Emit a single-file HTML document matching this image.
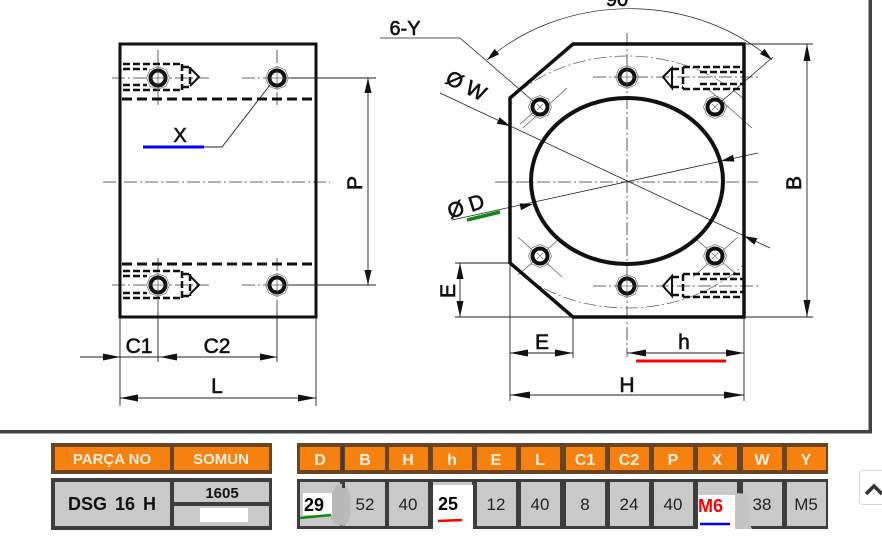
<!DOCTYPE html>
<html><head><meta charset="utf-8"><style>
html,body{margin:0;padding:0;background:#fff;}
svg{display:block;}
text{font-family:"Liberation Sans",Arial,sans-serif;}
</style></head><body>
<svg width="882" height="547" viewBox="0 0 882 547" xmlns="http://www.w3.org/2000/svg">
<defs>
<clipPath id="shp"><path d="M573,44 L744,44 L744,317 L573,317 L510,263 L510,98 Z"/></clipPath>
<g id="hole">
<polygon points="11.5,0 8.1,8.1 0,11.5 -8.1,8.1 -11.5,0 -8.1,-8.1 0,-11.5 8.1,-8.1" fill="none" stroke="#777" stroke-width="0.8"/>
<circle r="7.5" fill="#fff" stroke="#111" stroke-width="4"/>
</g>
</defs>
<rect width="882" height="547" fill="#fff"/>

<!-- frame -->
<rect x="0" y="430" width="872" height="3.5" fill="#444"/>
<rect x="868.5" y="0" width="3.5" height="433" fill="#444"/>

<!-- ================= LEFT DRAWING ================= -->
<g stroke="#333" stroke-width="0.8" fill="none" stroke-dasharray="13 3 2 3">
<line x1="103" y1="182" x2="330" y2="182"/>
<line x1="112" y1="78" x2="210" y2="78"/>
<line x1="242" y1="78" x2="313" y2="78"/>
<line x1="112" y1="285" x2="210" y2="285"/>
<line x1="242" y1="285" x2="313" y2="285"/>
<line x1="158" y1="50" x2="158" y2="105"/>
<line x1="277" y1="50" x2="277" y2="105"/>
<line x1="158" y1="258" x2="158" y2="312"/>
<line x1="277" y1="258" x2="277" y2="312"/>
</g>
<rect x="120" y="44" width="196" height="273" fill="none" stroke="#111" stroke-width="3"/>
<g stroke="#111" stroke-width="3" stroke-dasharray="10 5">
<line x1="122" y1="99" x2="314" y2="99"/>
<line x1="122" y1="264" x2="314" y2="264"/>
</g>
<!-- countersinks left -->
<g stroke="#111" stroke-width="2.5" fill="none">
<g stroke-dasharray="7 3">
<line x1="123" y1="64" x2="182" y2="64"/><line x1="123" y1="90" x2="182" y2="90"/>
<line x1="123" y1="69" x2="147" y2="69"/><line x1="123" y1="85" x2="147" y2="85"/>
<line x1="182" y1="64" x2="182" y2="90"/>
<line x1="182" y1="67" x2="190" y2="67"/><line x1="182" y1="87" x2="190" y2="87"/>
<line x1="190" y1="67" x2="190" y2="87"/>
<line x1="123" y1="271" x2="182" y2="271"/><line x1="123" y1="298" x2="182" y2="298"/>
<line x1="123" y1="276" x2="147" y2="276"/><line x1="123" y1="293" x2="147" y2="293"/>
<line x1="182" y1="271" x2="182" y2="298"/>
<line x1="182" y1="274" x2="190" y2="274"/><line x1="182" y1="296" x2="190" y2="296"/>
<line x1="190" y1="274" x2="190" y2="296"/>
</g>
<path d="M190,68 L199,77 L190,86" stroke-width="2"/>
<path d="M190,276 L199,285 L190,294" stroke-width="2"/>
</g>
<use href="#hole" x="158" y="78"/><use href="#hole" x="277" y="78"/>
<use href="#hole" x="158" y="285"/><use href="#hole" x="277" y="285"/>
<g stroke="#555" stroke-width="0.7">
<line x1="150" y1="78" x2="166" y2="78"/><line x1="158" y1="70" x2="158" y2="86"/>
<line x1="269" y1="78" x2="285" y2="78"/><line x1="277" y1="70" x2="277" y2="86"/>
<line x1="150" y1="285" x2="166" y2="285"/><line x1="158" y1="277" x2="158" y2="293"/>
<line x1="269" y1="285" x2="285" y2="285"/><line x1="277" y1="277" x2="277" y2="293"/>
</g>

<!-- dims left -->
<g stroke="#222" stroke-width="0.9" fill="none">
<line x1="290" y1="78" x2="376" y2="78"/>
<line x1="290" y1="285" x2="376" y2="285"/>
<line x1="368" y1="78" x2="368" y2="285"/>
<line x1="120" y1="317" x2="120" y2="406"/>
<line x1="316" y1="317" x2="316" y2="406"/>
<line x1="158" y1="312" x2="158" y2="362"/>
<line x1="277" y1="312" x2="277" y2="362"/>
<line x1="80" y1="357" x2="277" y2="357"/>
<line x1="120" y1="398" x2="316" y2="398"/>
<path d="M204,147 L222,147 L270,85"/>
</g>
<g fill="#111">
<polygon points="368,78 364.5,93 371.5,93"/>
<polygon points="368,285 364.5,270 371.5,270"/>
<polygon points="120,357 103,353.5 103,360.5"/>
<polygon points="160,357 177,353.5 177,360.5"/>
<polygon points="277,357 260,353.5 260,360.5"/>
<polygon points="120,398 138,394.5 138,401.5"/>
<polygon points="316,398 298,394.5 298,401.5"/>
</g>
<line x1="143" y1="147" x2="204" y2="147" stroke="#0000ff" stroke-width="3"/>
<g fill="#111" stroke="#111" stroke-width="0.6" font-size="21">
<text x="180" y="142" text-anchor="middle" font-size="20">X</text>
<text x="139" y="353" text-anchor="middle">C1</text>
<text x="217" y="353" text-anchor="middle">C2</text>
<text x="217" y="393" text-anchor="middle">L</text>
<text transform="translate(362,183) rotate(-90)" text-anchor="middle">P</text>
</g>

<!-- ================= RIGHT DRAWING ================= -->
<g stroke="#333" stroke-width="0.8" fill="none" stroke-dasharray="13 3 2 3">
<line x1="627" y1="33" x2="627" y2="357"/>
<line x1="495" y1="182" x2="758" y2="182"/>
<line x1="593" y1="77" x2="760" y2="77"/>
<line x1="593" y1="286" x2="760" y2="286"/>
<ellipse cx="627" cy="182" rx="155" ry="126" clip-path="url(#shp)" stroke="#555" stroke-width="0.7"/>
</g>
<!-- diagonal leader lines -->
<g stroke="#222" stroke-width="0.8" fill="none">
<line x1="440" y1="93" x2="770" y2="248"/>
<line x1="452" y1="220" x2="758" y2="153"/>
<path d="M380,38 L460,38 L540,107"/>
<line x1="715" y1="107" x2="773" y2="57"/>
<path d="M487,60 A200,172 0 0,1 772,60" stroke-width="0.7"/>
</g>
<g stroke="#555" stroke-width="0.7" fill="none">
<line x1="523" y1="128" x2="567" y2="88"/>
<line x1="707" y1="88" x2="752" y2="128"/>
<line x1="518" y1="237" x2="562" y2="277"/>
<line x1="693" y1="277" x2="738" y2="237"/>
<line x1="540" y1="256" x2="518" y2="275"/>
<line x1="540" y1="256" x2="560" y2="238"/>
<line x1="715" y1="256" x2="736" y2="274"/>
<line x1="715" y1="256" x2="695" y2="238"/>
<line x1="540" y1="107" x2="520" y2="124"/>
</g>
<path d="M573,44 L744,44 L744,317 L573,317 L510,263 L510,98 Z" fill="none" stroke="#111" stroke-width="3.5"/>
<ellipse cx="627" cy="181" rx="96" ry="83" fill="none" stroke="#111" stroke-width="4"/>
<!-- countersinks right -->
<g stroke="#111" stroke-width="2.5" fill="none">
<g stroke-dasharray="7 3">
<line x1="683" y1="67" x2="744" y2="67"/><line x1="683" y1="89" x2="744" y2="89"/>
<line x1="700" y1="72" x2="744" y2="72"/><line x1="700" y1="84" x2="744" y2="84"/>
<line x1="683" y1="67" x2="683" y2="89"/>
<line x1="672" y1="69" x2="683" y2="69"/><line x1="672" y1="87" x2="683" y2="87"/>
<line x1="683" y1="274" x2="744" y2="274"/><line x1="683" y1="297" x2="744" y2="297"/>
<line x1="700" y1="279" x2="744" y2="279"/><line x1="700" y1="292" x2="744" y2="292"/>
<line x1="683" y1="274" x2="683" y2="297"/>
<line x1="672" y1="277" x2="683" y2="277"/><line x1="672" y1="295" x2="683" y2="295"/>
</g>
<path d="M672,68 L663,77 L672,88 Z" stroke-width="2"/>
<path d="M672,276 L663,286 L672,296 Z" stroke-width="2"/>
</g>
<use href="#hole" x="627" y="77"/><use href="#hole" x="540" y="107"/><use href="#hole" x="715" y="107"/>
<use href="#hole" x="540" y="256"/><use href="#hole" x="715" y="256"/><use href="#hole" x="627" y="286"/>
<g stroke="#666" stroke-width="0.7">
<path d="M537,104 l6,6 M543,104 l-6,6 M712,104 l6,6 M718,104 l-6,6 M537,253 l6,6 M543,253 l-6,6 M712,253 l6,6 M718,253 l-6,6"/>
<line x1="619" y1="77" x2="635" y2="77"/><line x1="627" y1="69" x2="627" y2="85"/>
<line x1="619" y1="286" x2="635" y2="286"/><line x1="627" y1="278" x2="627" y2="294"/>
</g>
<!-- dims right -->
<g stroke="#222" stroke-width="0.9" fill="none">
<line x1="746" y1="44" x2="813" y2="44"/>
<line x1="746" y1="317" x2="813" y2="317"/>
<line x1="807" y1="44" x2="807" y2="317"/>
<line x1="455" y1="263" x2="510" y2="263"/>
<line x1="455" y1="317" x2="573" y2="317"/>
<line x1="460" y1="263" x2="460" y2="317"/>
<line x1="510" y1="263" x2="510" y2="401"/>
<line x1="573" y1="317" x2="573" y2="358"/>
<line x1="744" y1="317" x2="744" y2="401"/>
<line x1="510" y1="353" x2="573" y2="353"/>
<line x1="627" y1="353" x2="744" y2="353"/>
<line x1="510" y1="395" x2="744" y2="395"/>
</g>
<g fill="#111">
<polygon points="807,44 803.5,61 810.5,61"/>
<polygon points="807,317 803.5,300 810.5,300"/>
<polygon points="460,263 456.5,279 463.5,279"/>
<polygon points="460,317 456.5,301 463.5,301"/>
<polygon points="510,353 528,349.5 528,356.5"/>
<polygon points="573,353 555,349.5 555,356.5"/>
<polygon points="628,353 646,349.5 646,356.5"/>
<polygon points="744,353 726,349.5 726,356.5"/>
<polygon points="510,395 530,391.5 530,398.5"/>
<polygon points="744,395 724,391.5 724,398.5"/>
<polygon points="510,126 496.7,123.7 499.7,117.3"/>
<polygon points="744,236 754.3,244.7 757.3,238.3"/>
<polygon points="533,204 521,210.2 519.6,203.4"/>
<polygon points="721,161 733,154.8 734.4,161.6"/>
<polygon points="487,60 499.2,54.3 494.6,48.9"/>
<polygon points="772,60 764.5,48.8 759.9,54"/>
</g>
<line x1="636" y1="361" x2="726" y2="361" stroke="#ff0000" stroke-width="3"/>
<line x1="467" y1="220" x2="500" y2="212" stroke="#118811" stroke-width="3.5"/>
<g fill="#111" stroke="#111" stroke-width="0.6" font-size="21">
<text x="617" y="6" text-anchor="middle" font-size="20">90</text>
<text x="405" y="35" text-anchor="middle" font-size="20">6-Y</text>
<text transform="translate(463,92) rotate(27)" text-anchor="middle" font-size="21">Ø W</text>
<text transform="translate(468,213) rotate(-18)" text-anchor="middle" font-size="21">Ø D</text>
<text transform="translate(801,183) rotate(-90)" text-anchor="middle">B</text>
<text transform="translate(455,291) rotate(-90)" text-anchor="middle">E</text>
<text x="542" y="349" text-anchor="middle">E</text>
<text x="684" y="349" text-anchor="middle">h</text>
<text x="627" y="392" text-anchor="middle">H</text>
</g>

<!-- ================= TABLES ================= -->
<rect x="51" y="443" width="221" height="31" fill="#6a4524"/>
<rect x="55" y="447" width="115" height="23" fill="#f7810f"/>
<rect x="174" y="447" width="95" height="23" fill="#f7810f"/>
<g fill="#fdf0e2" font-weight="bold" font-size="15" text-anchor="middle">
<text x="112" y="464">PARÇA NO</text>
<text x="221" y="464">SOMUN</text>
</g>
<rect x="51" y="478" width="221" height="52" fill="#3d3d3d"/>
<rect x="55" y="482" width="115" height="44" fill="#c9c9c9"/>
<rect x="174" y="482" width="95" height="20" fill="#c9c9c9"/>
<rect x="174" y="506" width="95" height="20" fill="#c9c9c9"/>
<rect x="200" y="508" width="48" height="14" fill="#fff"/>
<text x="112" y="510" text-anchor="middle" font-weight="bold" font-size="18" fill="#111" word-spacing="3">DSG 16 H</text>
<text x="222" y="498" text-anchor="middle" font-weight="bold" font-size="15" fill="#111">1605</text>

<rect x="297" y="443" width="531" height="31" fill="#6a4524"/>
<g fill="#f7810f">
<rect x="300" y="447" width="40" height="23"/>
<rect x="345" y="447" width="40" height="23"/>
<rect x="389" y="447" width="39" height="23"/>
<rect x="433" y="447" width="39" height="23"/>
<rect x="477" y="447" width="39" height="23"/>
<rect x="521" y="447" width="39" height="23"/>
<rect x="566" y="447" width="39" height="23"/>
<rect x="610" y="447" width="39" height="23"/>
<rect x="654" y="447" width="39" height="23"/>
<rect x="698" y="447" width="39" height="23"/>
<rect x="743" y="447" width="39" height="23"/>
<rect x="787" y="447" width="39" height="23"/>
</g>
<rect x="341" y="446" width="3" height="25" fill="#3d3d3d"/>
<g fill="#fdf0e2" font-weight="bold" font-size="16" text-anchor="middle">
<text x="320" y="465">D</text>
<text x="365" y="465">B</text>
<text x="408" y="465">H</text>
<text x="452" y="465">h</text>
<text x="496" y="465">E</text>
<text x="540" y="465">L</text>
<text x="585" y="465">C1</text>
<text x="629" y="465">C2</text>
<text x="673" y="465">P</text>
<text x="717" y="465">X</text>
<text x="762" y="465">W</text>
<text x="806" y="465">Y</text>
</g>
<rect x="297" y="479" width="531" height="50" fill="#3d3d3d"/>
<g fill="#c9c9c9">
<rect x="300" y="482" width="40" height="44"/>
<rect x="345" y="482" width="40" height="44"/>
<rect x="389" y="482" width="39" height="44"/>
<rect x="433" y="482" width="39" height="44"/>
<rect x="477" y="482" width="39" height="44"/>
<rect x="521" y="482" width="39" height="44"/>
<rect x="566" y="482" width="39" height="44"/>
<rect x="610" y="482" width="39" height="44"/>
<rect x="654" y="482" width="39" height="44"/>
<rect x="698" y="482" width="39" height="44"/>
<rect x="743" y="482" width="39" height="44"/>
<rect x="787" y="482" width="39" height="44"/>
</g>
<!-- artifacts -->
<path d="M333,490 Q338,482 344,484 Q352,492 350,505 Q352,520 344,526 L334,524 Q328,512 330,500 Z" fill="#b9b9b9"/>
<rect x="342" y="480" width="3" height="8" fill="#3d3d3d"/>
<rect x="303" y="493" width="29" height="22" fill="#fff"/>
<rect x="433" y="485" width="40" height="47" fill="#fff"/>
<rect x="698" y="495" width="37" height="36" fill="#fff"/>
<path d="M735,493 L748,494 L750,525 L752,529 L735,529 Z" fill="#c4c4c4"/>
<g font-size="17" fill="#222" text-anchor="middle">
<text x="365" y="510">52</text>
<text x="408" y="510">40</text>
<text x="496" y="510">12</text>
<text x="540" y="510">40</text>
<text x="585" y="510">8</text>
<text x="629" y="510">24</text>
<text x="673" y="510">40</text>
<text x="762" y="510">38</text>
<text x="806" y="510">M5</text>
</g>
<text x="304" y="511" font-weight="bold" font-size="18" fill="#000">29</text>
<text x="438" y="510" font-weight="bold" font-size="18" fill="#000">25</text>
<text x="698" y="512" font-weight="bold" font-size="18" fill="#ff0000">M6</text>
<line x1="300" y1="518" x2="331" y2="515" stroke="#118811" stroke-width="2.5"/>
<line x1="438" y1="521" x2="462" y2="520" stroke="#ff0000" stroke-width="2.5"/>
<line x1="700" y1="524" x2="730" y2="524" stroke="#0000ff" stroke-width="2.5"/>

<!-- scroll button -->
<rect x="859.5" y="470.5" width="30" height="34" rx="3" fill="#fff" stroke="#d8d8d8"/>
<polyline points="866,494 874,486 882,494" fill="none" stroke="#333" stroke-width="3.5"/>
</svg>
</body></html>
